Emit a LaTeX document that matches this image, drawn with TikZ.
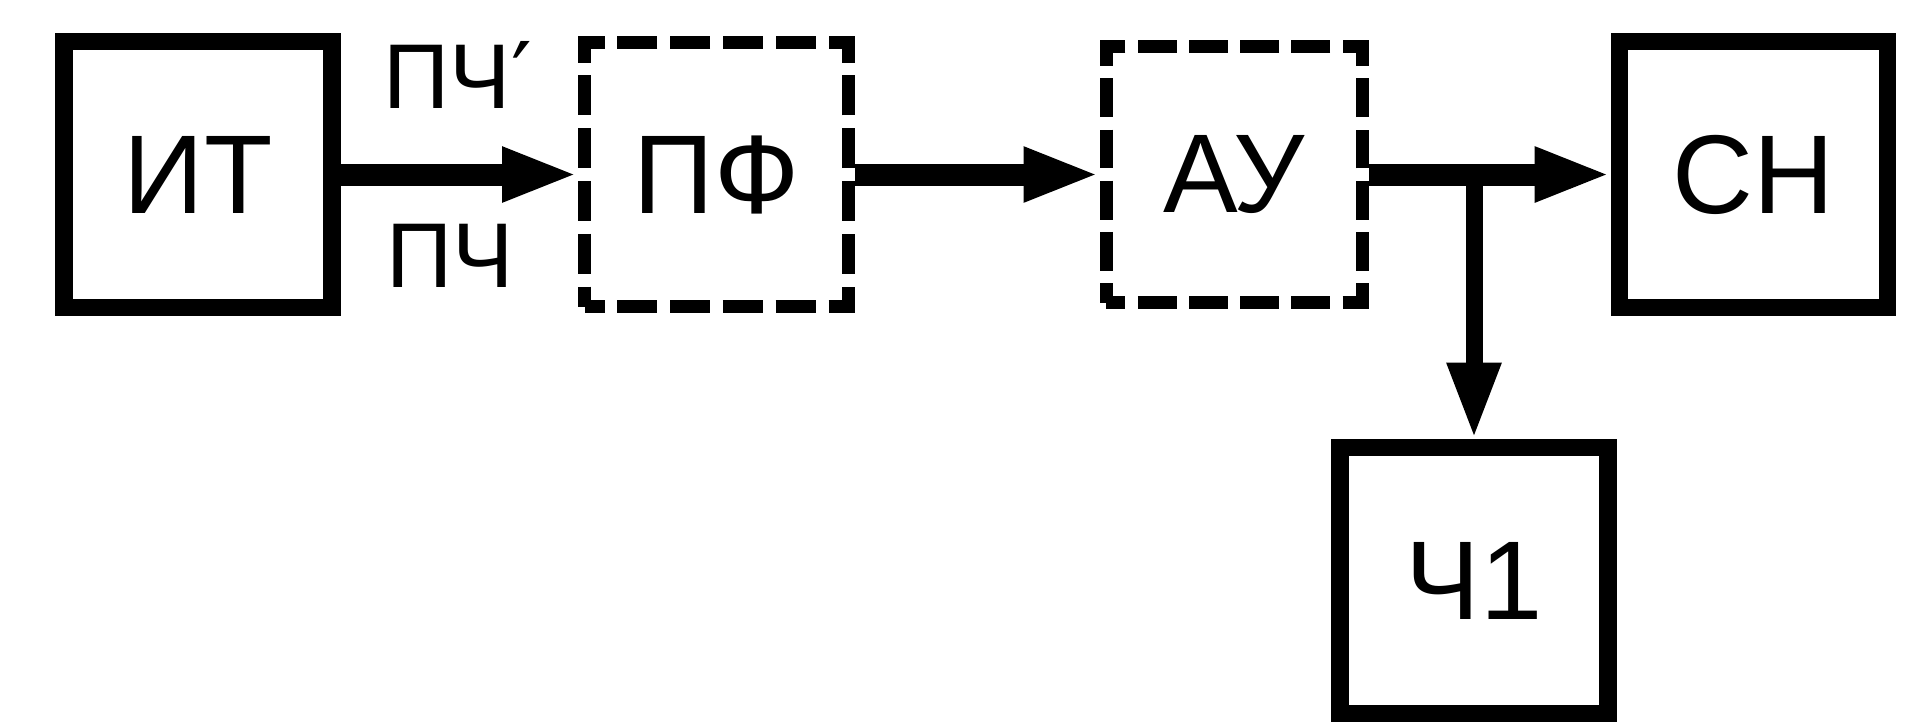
\documentclass[tikz,border=0pt]{standalone}
\usepackage{fontspec}
\setmainfont{Liberation Sans}
\newfontfamily\primefont{DejaVu Sans}
\usetikzlibrary{arrows.meta}

\begin{document}
\begin{tikzpicture}[x=0.25pt,y=0.25pt,yscale=-1,xscale=1,
  blk/.style={draw,line width=4.4pt,minimum width=67pt,minimum height=66.5pt,inner sep=0pt,font=\fontsize{28pt}{28pt}\selectfont},
  dblk/.style={blk,line width=3.25pt,dash pattern={on 10pt off 3.2pt},dash phase=5pt,minimum width=66pt,minimum height=66pt},
  sig/.style={line width=5.5pt,-{Triangle[length=19pt,width=12.5pt]}},
  lbl/.style={inner sep=0pt,font=\fontsize{23pt}{23pt}\selectfont}]
\useasboundingbox (0,0) rectangle (1927,722); %set diagram frame to the size of the picture

%Shape: Rectangle [id:it]
\draw (198,174.5) node (it) [blk] {ИТ};
%Shape: Dashed Rectangle [id:pf]
\draw (716.5,174.5) node (pf) [dblk] {ПФ};
%Shape: Dashed Rectangle [id:au]
\draw (1234,174.5) node (au) [dblk,minimum width=64pt,minimum height=64pt,dash pattern={on 9.7pt off 3.1pt},dash phase=4.85pt] {АУ};
%Shape: Rectangle [id:sn]
\draw (1753.5,174.5) node (sn) [blk] {СН};
%Shape: Rectangle [id:ch1]
\draw (1474,580.5) node (ch1) [blk] {Ч1};

% Text Node
\draw (458,75) node (pchtop) [lbl] {ПЧ{\primefont ′}};
% Text Node
\draw (450,256) node (pchbot) [lbl] {ПЧ};

%Straight Lines [id:arrows]
\draw [sig] (it) -- (pf);
\draw [sig] (pf) -- (au);
\draw [sig] (au) -- (sn);
\coordinate (br) at (au.east -| ch1.north);
\draw [sig,line width=4.25pt] (br) -- (ch1);

\end{tikzpicture}
\end{document}
